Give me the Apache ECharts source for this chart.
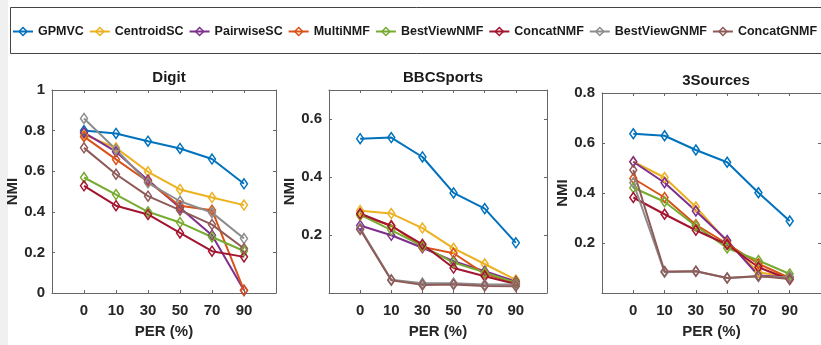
<!DOCTYPE html>
<html>
<head>
<meta charset="utf-8">
<script src="https://cdn.jsdelivr.net/npm/echarts@6/dist/echarts.min.js"></script>
<style>
  html, body { margin: 0; padding: 0; background: #fff; }
  #chart { width: 821px; height: 345px; }
</style>
</head>
<body>
<div id="chart"></div>
<script>
// PER (%) tick labels, one per point
const perLabels = ['0', '10', '30', '50', '70', '90'];
const methods = ['GPMVC', 'CentroidSC', 'PairwiseSC', 'MultiNMF', 'BestViewNMF', 'ConcatNMF', 'BestViewGNMF', 'ConcatGNMF'];
const colors = ['#0072BD', '#EDB120', '#7E2F8E', '#D95319', '#77AC30', '#A2142F', '#8C8C8C', '#8E5A58'];

// NMI values, rows follow methods
const digitNMI = [
  [0.80, 0.786, 0.748, 0.712, 0.66, 0.538],
  [0.78, 0.715, 0.597, 0.51, 0.47, 0.433],
  [0.79, 0.696, 0.556, 0.42, 0.285, 0.013],
  [0.77, 0.658, 0.548, 0.43, 0.408, 0.013],
  [0.569, 0.485, 0.40, 0.347, 0.276, 0.207],
  [0.528, 0.43, 0.387, 0.296, 0.206, 0.178],
  [0.86, 0.707, 0.543, 0.452, 0.396, 0.268],
  [0.715, 0.585, 0.477, 0.408, 0.337, 0.219]
];
const bbcNMI = [
  [0.532, 0.536, 0.469, 0.345, 0.291, 0.173],
  [0.284, 0.274, 0.224, 0.154, 0.10, 0.045],
  [0.233, 0.199, 0.156, 0.11, 0.075, 0.04],
  [0.268, 0.233, 0.159, 0.137, 0.066, 0.035],
  [0.27, 0.217, 0.162, 0.105, 0.071, 0.035],
  [0.274, 0.231, 0.168, 0.086, 0.058, 0.031],
  [0.223, 0.046, 0.034, 0.034, 0.029, 0.029],
  [0.219, 0.044, 0.028, 0.029, 0.024, 0.023]
];
const sourcesNMI = [
  [0.637, 0.629, 0.572, 0.523, 0.401, 0.288],
  [0.525, 0.462, 0.344, 0.204, 0.083, 0.063],
  [0.525, 0.441, 0.328, 0.21, 0.07, 0.063],
  [0.458, 0.382, 0.273, 0.197, 0.117, 0.06],
  [0.421, 0.365, 0.268, 0.18, 0.13, 0.076],
  [0.382, 0.315, 0.251, 0.194, 0.103, 0.054],
  [0.441, 0.083, 0.087, 0.06, 0.066, 0.063],
  [0.492, 0.086, 0.087, 0.06, 0.068, 0.056]
];

const titles = ['Digit', 'BBCSports', '3Sources'];
const yMax = [1, 0.7, 0.8];
const yTicks = [[0, 0.2, 0.4, 0.6, 0.8, 1], [0.2, 0.4, 0.6], [0.2, 0.4, 0.6, 0.8]];
const allData = [digitNMI, bbcNMI, sourcesNMI];

const grids = [
  { left: 52, top: 90, width: 224, height: 203 },
  { left: 329, top: 90, width: 218, height: 203 },
  { left: 602, top: 93, width: 223, height: 200 }
];

const font = 'Liberation Sans, Arial, sans-serif';
const axisColor = '#666';
const xTickIdx = [0, 1, 2, 3, 4, 5];

var xAxes = [], yAxes = [], series = [], titleList = [];
grids.forEach(function (g, k) {
  titleList.push({
    text: titles[k],
    left: k === 2 ? 711 : g.left + g.width / 2,
    top: g.top - 25,
    textAlign: 'center',
    textStyle: { fontFamily: font, fontSize: 15, fontWeight: 'bold', color: '#1a1a1a' }
  });
  // bottom axis
  xAxes.push({
    type: 'value', gridIndex: k, min: -1, max: 6, interval: 1,
    name: 'PER (%)', nameLocation: 'middle', nameGap: 31,
    nameTextStyle: { fontFamily: font, fontSize: 15, fontWeight: 'bold', color: '#262626' },
    axisLine: { onZero: false, lineStyle: { color: axisColor } },
    axisTick: { inside: true, length: 3, customValues: xTickIdx, lineStyle: { color: axisColor } },
    axisLabel: {
      customValues: xTickIdx, margin: 10,
      fontFamily: font, fontSize: 15, fontWeight: 'bold', color: '#262626',
      formatter: function (v) { return perLabels[Math.round(v)] || ''; }
    },
    splitLine: { show: false }
  });
  // top axis (box)
  xAxes.push({
    type: 'value', gridIndex: k, min: -1, max: 6, interval: 1, position: 'top',
    axisLine: { onZero: false, lineStyle: { color: axisColor } },
    axisTick: { inside: true, length: 3, customValues: xTickIdx, lineStyle: { color: axisColor } },
    axisLabel: { show: false }, splitLine: { show: false }
  });
  yAxes.push({
    type: 'value', gridIndex: k, min: 0, max: yMax[k],
    name: 'NMI', nameLocation: 'middle', nameGap: 29, nameRotate: 90,
    nameTextStyle: { fontFamily: font, fontSize: 15, fontWeight: 'bold', color: '#262626' },
    axisLine: { show: true, onZero: false, lineStyle: { color: axisColor } },
    axisTick: { show: true, inside: true, length: 3, customValues: yTicks[k], lineStyle: { color: axisColor } },
    axisLabel: {
      customValues: yTicks[k], margin: 7,
      fontFamily: font, fontSize: 15, fontWeight: 'bold', color: '#262626',
      formatter: function (v) { return String(Math.round(v * 10) / 10); }
    },
    splitLine: { show: false }
  });
  // right axis (box)
  yAxes.push({
    type: 'value', gridIndex: k, min: 0, max: yMax[k], position: 'right',
    axisLine: { show: true, onZero: false, lineStyle: { color: axisColor } },
    axisTick: { show: true, inside: true, length: 3, customValues: yTicks[k], lineStyle: { color: axisColor } },
    axisLabel: { show: false }, splitLine: { show: false }
  });

  allData[k].forEach(function (vals, m) {
    series.push({
      name: methods[m],
      type: 'line',
      xAxisIndex: k * 2,
      yAxisIndex: k * 2,
      data: vals.map(function (v, i) { return [i, v]; }),
      symbol: 'diamond',
      symbolSize: [7, 10],
      showAllSymbol: true,
      lineStyle: { color: colors[m], width: 2 },
      itemStyle: { color: 'transparent', borderColor: colors[m], borderWidth: 1.5 },
      emphasis: { disabled: true },
      animation: false
    });
  });
});

var myChart = echarts.init(document.getElementById('chart'));
myChart.setOption({
  backgroundColor: '#fff',
  animation: false,
  title: titleList,
  legend: {
    data: methods.map(function (n, m) {
      return { name: n, itemStyle: { color: 'transparent', borderColor: colors[m], borderWidth: 1.5 } };
    }),
    left: 12, top: 25, width: 830, padding: 0,
    itemWidth: 20, itemHeight: 10, itemGap: 5,
    selectedMode: false,
    textStyle: { fontFamily: font, fontSize: 12.5, fontWeight: 'bold', color: '#1a1a1a' }
  },
  graphic: [
    { type: 'rect', shape: { x: 0, y: 0, width: 8, height: 345 }, style: { fill: '#f0f0f0' }, silent: true },
    { type: 'rect', shape: { x: 10.5, y: 7.5, width: 820, height: 46 }, style: { fill: 'none', stroke: '#444', lineWidth: 1 }, silent: true }
  ],
  grid: grids,
  xAxis: xAxes,
  yAxis: yAxes,
  series: series
});
</script>
</body>
</html>
